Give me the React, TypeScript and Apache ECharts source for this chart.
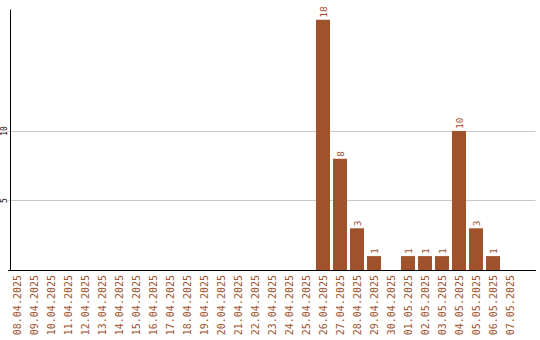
import React, { useEffect, useRef } from "react";
import * as echarts from "echarts";

const categories = [
  "08.04.2025", "09.04.2025", "10.04.2025", "11.04.2025", "12.04.2025", "13.04.2025",
  "14.04.2025", "15.04.2025", "16.04.2025", "17.04.2025", "18.04.2025", "19.04.2025",
  "20.04.2025", "21.04.2025", "22.04.2025", "23.04.2025", "24.04.2025", "25.04.2025",
  "26.04.2025", "27.04.2025", "28.04.2025", "29.04.2025", "30.04.2025", "01.05.2025",
  "02.05.2025", "03.05.2025", "04.05.2025", "05.05.2025", "06.05.2025", "07.05.2025",
  "",
];
const values = [
  0, 0, 0, 0, 0, 0,
  0, 0, 0, 0, 0, 0,
  0, 0, 0, 0, 0, 0,
  18, 8, 3, 1, 0, 1,
  1, 1, 10, 3, 1, 0,
];
const yGridValues = [5, 10];
const yMax = 18.7;

const BROWN = "#a0522d";
const MONO = "'DejaVu Sans Mono', monospace";

export default function App() {
  const ref = useRef<HTMLDivElement>(null);
  useEffect(() => {
    if (!ref.current) return;
    const chart = echarts.init(ref.current, null, { renderer: "svg" });
    chart.setOption({
      animation: false,
      grid: { left: 8.5, top: 10, width: 527, bottom: 70, containLabel: false, outerBoundsMode: "none" },
      xAxis: {
        type: "category",
        data: categories,
        boundaryGap: true,
        axisLine: { show: true, lineStyle: { color: "#000", width: 1 } },
        axisTick: { show: false },
        axisLabel: {
          interval: 0,
          rotate: 90,
          margin: 5,
          color: BROWN,
          fontFamily: MONO,
          fontSize: 10,
        },
        splitLine: { show: false },
      },
      yAxis: {
        type: "value",
        min: 0,
        max: yMax,
        interval: 5,
        offset: -2,
        axisLine: { show: true, lineStyle: { color: "#000", width: 1 } },
        axisTick: { show: false },
        splitLine: { show: false },
        axisLabel: {
          show: true,
          rotate: 90,
          margin: 2,
          color: "#000",
          fontFamily: MONO,
          fontSize: 8,
          hideOverlap: false,
          formatter: (v: any) => (yGridValues.indexOf(Number(v)) >= 0 ? String(Number(v)) : ""),
        },
      },
      series: [
        {
          type: "bar",
          data: values,
          barWidth: 14,
          itemStyle: { color: BROWN },
          label: {
            show: true,
            position: "top",
            rotate: 90,
            align: "left",
            verticalAlign: "middle",
            distance: 2,
            color: BROWN,
            fontFamily: MONO,
            fontSize: 9.5,
            formatter: (p: any) => (p.value ? String(p.value) : ""),
          },
          markLine: {
            silent: true,
            symbol: "none",
            label: { show: false },
            lineStyle: { color: "#c8c8c8", type: "solid", width: 1 },
            data: yGridValues.map((v) => ({ yAxis: v })),
            z: 0,
          },
          z: 2,
        },
      ],
    });
    return () => chart.dispose();
  }, []);
  return (
    <div
      ref={ref}
      style={{ position: "absolute", left: 0, top: 0, width: 540, height: 340 }}
    />
  );
}
